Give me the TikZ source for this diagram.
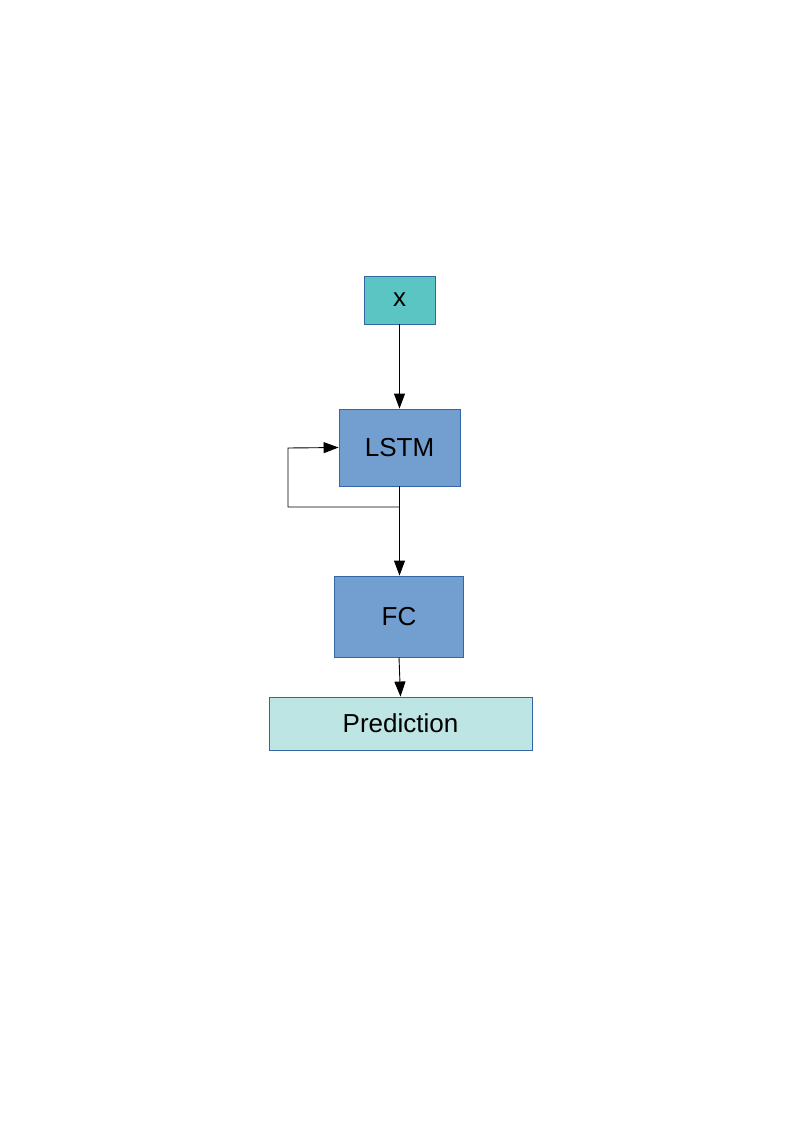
\documentclass[tikz,border=0pt]{standalone}
\usepackage{fontspec}
\setmainfont{Liberation Sans}
\usetikzlibrary{arrows.meta}
\definecolor{boxline}{HTML}{3465A4}
\definecolor{xfill}{HTML}{5BC5C4}
\definecolor{lstmfill}{HTML}{729FCF}
\definecolor{predfill}{HTML}{BDE5E4}
\begin{document}
\begin{tikzpicture}[x=1pt,y=-1pt,
  blk/.style={draw=boxline,line width=0.9pt,inner sep=0pt,font=\fontsize{26}{30}\selectfont},
  conn/.style={draw=black,line width=0.9pt,-{Triangle[length=15pt,width=11pt]}}]
\useasboundingbox (0,0) rectangle (794,1123);
\node[blk,fill=xfill,minimum width=71pt,minimum height=48pt] (x) at (399.5,300) {x};
\node[blk,fill=lstmfill,minimum width=121pt,minimum height=77pt] (lstm) at (399.5,447.5) {LSTM};
\node[blk,fill=lstmfill,minimum width=129pt,minimum height=81pt] (fc) at (399,616.5) {FC};
\node[blk,fill=predfill,minimum width=263pt,minimum height=53pt] (pred) at (400.5,723.5) {Prediction};
\coordinate (j) at (lstm.south |- 0,507);
\coordinate (c1) at (288,507);
\coordinate (c2) at (288,448);
\draw[conn] (x.south) -- (x.south |- lstm.north);
\draw[conn] (lstm.south) -- (lstm.south |- fc.north);
\draw[conn] (j) -- (c1) -- (c2) -- (lstm.west);
\draw[conn] (fc.south) -- (pred.north);
\end{tikzpicture}
\end{document}
